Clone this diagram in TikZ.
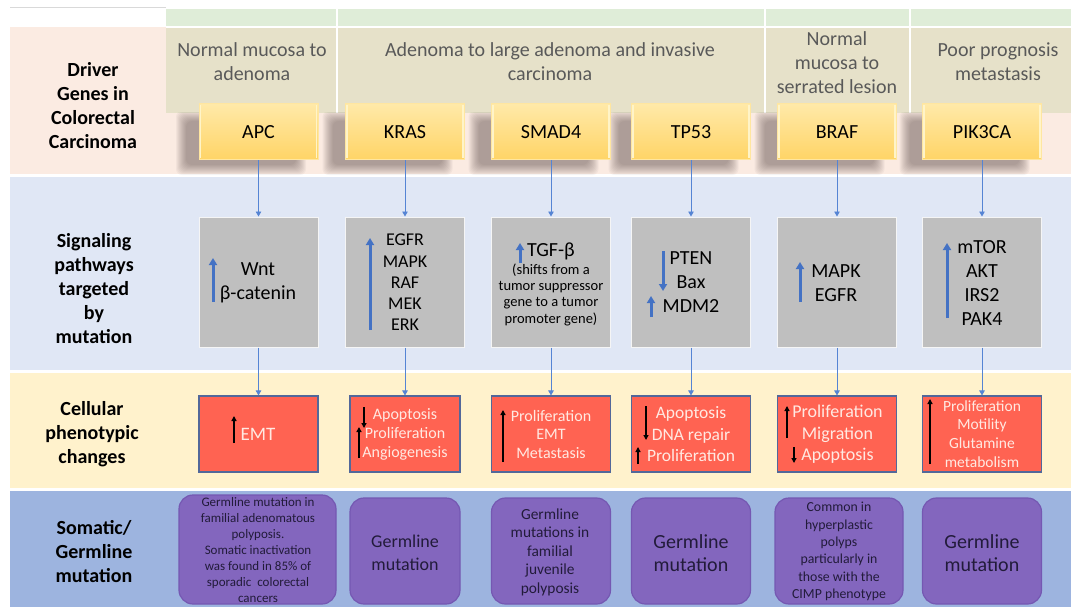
\documentclass[tikz,border=0pt]{standalone}
\usepackage{fontspec}
\setmainfont{Carlito}
\usetikzlibrary{arrows.meta}
\definecolor{peach}{HTML}{FBEBE2}
\definecolor{beige}{HTML}{E6E1C9}
\definecolor{greenband}{HTML}{DFEDD8}
\definecolor{lightblue}{HTML}{E0E7F5}
\definecolor{lightyellow}{HTML}{FFF2CC}
\definecolor{bandblue}{HTML}{9DB4DF}
\definecolor{headgray}{HTML}{595959}
\definecolor{genetop}{HTML}{FFE9A8}
\definecolor{genebot}{HTML}{FFD466}
\definecolor{geneedge}{HTML}{FFE6A0}
\definecolor{genebevel}{HTML}{FFF4C8}
\definecolor{boxgray}{HTML}{BFBFBF}
\definecolor{redfill}{HTML}{FF6352}
\definecolor{rededge}{HTML}{52689A}
\definecolor{redtext}{HTML}{FFE9E2}
\definecolor{purplefill}{HTML}{8366BE}
\definecolor{purpleedge}{HTML}{7558B2}
\definecolor{purpletext}{HTML}{221B3A}
\definecolor{arrowblue}{HTML}{4472C4}
\definecolor{connblue}{HTML}{5584D4}
\definecolor{topline}{HTML}{D9D9D9}
\definecolor{shadowc}{HTML}{3A2A2A}
\newcommand{\myfs}[2]{\fontsize{#1}{#2}\selectfont}
\begin{document}
\begin{tikzpicture}[x=1pt,y=-1pt,
  genebox/.style={rectangle, minimum width=119pt, minimum height=56pt, inner sep=0pt,
    top color=genetop, bottom color=genebot, draw=geneedge, line width=1pt,
    font=\myfs{20}{24}},
  graybox/.style={rectangle, minimum width=119pt, minimum height=130pt, inner sep=0pt,
    fill=boxgray, draw=white!92!gray, line width=1pt},
  redbox/.style={rectangle, minimum width=119pt, minimum height=76pt, inner sep=0pt,
    fill=redfill, draw=rededge, line width=1.1pt},
  purplebox/.style={rectangle, rounded corners=14pt, minimum width=119pt, minimum height=106pt,
    inner sep=0pt, fill=purplefill, draw=purpleedge, line width=1.2pt},
  headtext/.style={align=center, inner sep=0pt, text=headgray, font=\myfs{20}{24}},
  rowlabel/.style={align=center, inner sep=0pt, font=\bfseries\myfs{20}{24}},
  gtext/.style={align=center, inner sep=0pt, text=black},
  rtext/.style={align=center, inner sep=0pt, text=redtext},
  ptext/.style={align=center, inner sep=0pt, text=purpletext},
  barrow/.style={draw=arrowblue, line width=3pt, -{Triangle[width=8pt,length=7pt]}},
  karrow/.style={draw=black, line width=1.6pt, -{Triangle[width=5pt,length=5pt]}},
  conn/.style={draw=connblue, line width=0.9pt, -{Triangle[width=5.5pt,length=5pt]}}
]
\useasboundingbox (0,0) rectangle (1071,607);
\fill[white] (0,0) rectangle (1071,607);
% top line and bands
\draw[topline, line width=1pt] (10,8) -- (166,8);
\fill[greenband] (166,9) rectangle (1071,27);
\fill[peach] (10,27) rectangle (1071,174);
\fill[beige] (166,28) rectangle (1071,113);
\fill[lightblue] (10,177) rectangle (1071,370);
\fill[lightyellow] (10,372.5) rectangle (1071,488);
\fill[bandblue] (10,491) rectangle (1071,607);
\draw[white, line width=1.2pt] (166,27) -- (1071,27);
\foreach \sx in {337,765,910}{\draw[white, line width=1.5pt] (\sx,9) -- (\sx,113);}
% headers
\node[headtext] (h1) at (252,61.5) {Normal mucosa to\\adenoma};
\node[headtext] (h2) at (550,61.5) {Adenoma to large adenoma and invasive\\carcinoma};
\node[headtext] (h3) at (837,62.5) {Normal\\mucosa to\\serrated lesion};
\node[headtext] (h4) at (998,61.5) {Poor prognosis\\metastasis};
% row labels
\node[rowlabel] (l1) at (93,106) {Driver\\Genes in\\Colorectal\\Carcinoma};
\node[rowlabel] (l2) at (94,289) {Signaling\\pathways\\targeted\\by\\mutation};
\node[rowlabel] (l3) at (92,434) {Cellular\\phenotypic\\changes};
\node[rowlabel] (l4) at (94,552) {Somatic/\\Germline\\mutation};
% gene shadows (soft)
\begin{scope}
\clip (0,113) rectangle (1071,175);
\foreach \cx in {258.5,405,551,691,837,982}{
  \foreach \e in {6,5,4,3,2,1,0,-1,-2,-3,-4}{
    \fill[shadowc, opacity=0.042, rounded corners=6pt] (\cx-76.5-\e,117-\e) rectangle (\cx+41.5+\e,169+\e);
  }}
\end{scope}
% gene boxes
\foreach \n/\cx/\lab in {g1/258.5/APC,g2/405/KRAS,g3/551/SMAD4,g4/691/TP53,g5/837/BRAF,g6/982/PIK3CA}{
  \node[genebox] (\n) at (\cx,132) {\lab};
  \draw[genebevel, line width=1.5pt] ([xshift=1.8pt,yshift=-2pt]\n.north west) -- ([xshift=1.8pt,yshift=2pt]\n.south west);
  \draw[genebevel, line width=1.5pt] ([xshift=-1.8pt,yshift=-2pt]\n.north east) -- ([xshift=-1.8pt,yshift=2pt]\n.south east);
}
% signaling boxes
\node[graybox] (s1) at (258.5,282) {};
\node[graybox] (s2) at (405,282) {};
\node[graybox] (s3) at (551,282) {};
\node[graybox] (s4) at (691,282) {};
\node[graybox] (s5) at (837,282) {};
\node[graybox] (s6) at (982,282) {};
% phenotypic boxes
\node[redbox] (r1) at (258.5,434) {};
\node[redbox, minimum width=110pt] (r2) at (405,434) {};
\node[redbox] (r3) at (551,434) {};
\node[redbox] (r4) at (691,434) {};
\node[redbox] (r5) at (837,434) {};
\node[redbox] (r6) at (982,434) {};
% mutation boxes
\node[purplebox, minimum width=157pt, minimum height=109pt] (p1) at (257.5,549.5) {};
\node[purplebox, minimum width=110pt] (p2) at (405,551) {};
\node[purplebox] (p3) at (551,551) {};
\node[purplebox] (p4) at (691,551) {};
\node[purplebox, minimum width=128pt] (p5) at (839,551) {};
\node[purplebox] (p6) at (982,551) {};
% connectors
\foreach \i in {1,...,6}{
  \draw[conn] (g\i) -- (s\i);
  \draw[conn] (s\i) -- (r\i);
}
% signaling texts
\node[gtext, font=\myfs{20}{24}] (s1t) at (258,283) {Wnt\\β-catenin};
\draw[barrow] (213,302) -- (213,258);
\node[gtext, font=\myfs{18}{21.3}] (s2t) at (405,282.5) {EGFR\\MAPK\\RAF\\MEK\\ERK};
\draw[barrow] (370,330) -- (370,238);
\node[gtext, font=\myfs{20}{24}] (s3a) at (551,251) {TGF-β};
\draw[barrow] (520,263) -- (520,243);
\node[gtext, font=\myfs{14.5}{16.3}] (s3b) at (551,294.5) {(shifts from a\\tumor suppressor\\gene to a tumor\\promoter gene)};
\node[gtext, font=\myfs{20}{24}] (s4t) at (691,282) {PTEN\\Bax\\MDM2};
\draw[barrow] (663,251) -- (663,291);
\draw[barrow] (651,317) -- (651,296);
\node[gtext, font=\myfs{20}{24}] (s5t) at (836,283) {MAPK\\EGFR};
\draw[barrow] (800,302) -- (800,262);
\node[gtext, font=\myfs{20}{23.8}] (s6t) at (982,283) {mTOR\\AKT\\IRS2\\PAK4};
\draw[barrow] (947,318) -- (947,243);
% phenotypic texts
\node[rtext, font=\myfs{19}{23}] (r1t) at (258,434) {EMT};
\draw[karrow] (234,443) -- (234,416);
\node[rtext, font=\myfs{16}{18.8}] (r2t) at (405,434.5) {Apoptosis\\Proliferation\\Angiogenesis};
\draw[karrow] (364,407) -- (364,428);
\draw[karrow] (359,458) -- (359,427);
\node[rtext, font=\myfs{16}{18.8}] (r3t) at (551,434.5) {Proliferation\\EMT\\Metastasis};
\draw[karrow] (503,462) -- (503,410);
\node[rtext, font=\myfs{17.5}{21.5}] (r4t) at (691,434.5) {Apoptosis\\DNA repair\\Proliferation};
\draw[karrow] (646,406) -- (646,440);
\draw[karrow] (638,464) -- (638,447);
\node[rtext, font=\myfs{18}{21.5}] (r5t) at (837.5,434.5) {Proliferation\\Migration\\Apoptosis};
\draw[karrow] (787,438) -- (787,406);
\draw[karrow] (794,447) -- (794,463);
\node[rtext, font=\myfs{15.5}{18.7}] (r6t) at (982,434) {Proliferation\\Motility\\Glutamine\\metabolism};
\draw[karrow] (930,464) -- (930,399);
% mutation texts
\node[ptext, font=\myfs{13}{16}] (p1t) at (258,550) {Germline mutation in\\familial adenomatous\\polyposis.\\Somatic inactivation\\was found in 85\% of\\sporadic\ \ colorectal\\cancers};
\node[ptext, font=\myfs{18}{22.5}] (p2t) at (405,553) {Germline\\mutation};
\node[ptext, font=\myfs{15.4}{18.5}] (p3t) at (550,552) {Germline\\mutations in\\familial\\juvenile\\polyposis};
\node[ptext, font=\myfs{20}{23.5}] (p4t) at (691,553) {Germline\\mutation};
\node[ptext, font=\myfs{13.8}{17.4}] (p5t) at (839,551.5) {Common in\\hyperplastic\\polyps\\particularly in\\those with the\\CIMP phenotype};
\node[ptext, font=\myfs{20}{23.5}] (p6t) at (982,553) {Germline\\mutation};
\end{tikzpicture}
\end{document}
